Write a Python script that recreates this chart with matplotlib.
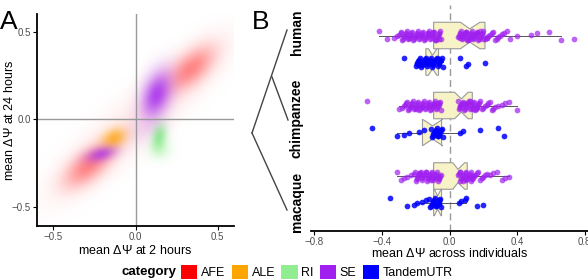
import numpy as np
import matplotlib
matplotlib.use("Agg")
import matplotlib.pyplot as plt
from matplotlib.patches import Patch
from matplotlib.lines import Line2D

plt.rcParams['font.family'] = ['Liberation Sans', 'DejaVu Sans']
plt.rcParams['mathtext.fontset'] = 'custom'
plt.rcParams['mathtext.rm'] = 'Liberation Sans'
plt.rcParams['mathtext.it'] = 'Liberation Sans:italic'

# ---- data ----
categories = ['AFE', 'ALE', 'RI', 'SE', 'TandemUTR']
cat_colors = ['#FF0000', '#FFA500', '#90EE90', '#A020F0', '#0000FF']

# panel A: 2d density blobs (centre, spread, correlation, weight)
blob_cat = ['AFE', 'AFE', 'AFE', 'ALE', 'RI', 'RI', 'SE', 'SE', 'SE']
blob_x = [-0.29, 0.34, 0.02, -0.13, 0.145, 0.15, 0.13, -0.21, 0.05]
blob_y = [-0.27, 0.29, 0.00, -0.11, -0.10, -0.17, 0.14, -0.20, -0.06]
blob_sx = [0.09, 0.09, 0.30, 0.045, 0.028, 0.04, 0.055, 0.055, 0.07]
blob_sy = [0.075, 0.08, 0.25, 0.035, 0.045, 0.035, 0.08, 0.028, 0.05]
blob_rho = [0.6, 0.6, 0.9, 0.3, 0.2, 0.0, 0.35, 0.4, 0.3]
blob_w = [1.0, 1.0, 0.12, 1.0, 1.0, 0.3, 1.0, 0.75, 0.06]
peak_alpha = {'AFE': 0.48, 'ALE': 0.75, 'RI': 0.95, 'SE': 0.82, 'TandemUTR': 0.5}

# panel B: per-species mean dPSI values
species = ['human', 'chimpanzee', 'macaque']
human_se = [-0.42, -0.37, -0.33, -0.31, -0.30, -0.29, -0.285, -0.28, -0.275, -0.27, -0.265,
            -0.26, -0.255, -0.25, -0.245, -0.24, -0.235, -0.23, -0.225, -0.22, -0.215, -0.21,
            -0.205, -0.20, -0.195, -0.19, -0.185, -0.18, -0.175, -0.17, -0.165, -0.16, -0.155,
            -0.15, -0.145, -0.14, -0.135, -0.13, -0.125, -0.12, -0.115, -0.11, -0.105, -0.10,
            -0.095, -0.09, -0.085, -0.08, -0.075, -0.07, -0.065, -0.06, -0.055, -0.05,
            -0.24, -0.20, -0.17, -0.13, -0.10, -0.08, -0.06,
            0.05, 0.055, 0.06, 0.065, 0.07, 0.075, 0.08, 0.085, 0.09, 0.095, 0.10, 0.105, 0.11,
            0.115, 0.12, 0.125, 0.13, 0.135, 0.14, 0.145, 0.15, 0.155, 0.16, 0.165, 0.17,
            0.175, 0.18, 0.185, 0.19, 0.195, 0.20, 0.21, 0.22, 0.23, 0.24, 0.25, 0.26, 0.27,
            0.28, 0.29, 0.30, 0.31, 0.32, 0.34, 0.36, 0.06, 0.07, 0.08, 0.09, 0.10, 0.11,
            0.12, 0.13, 0.14, 0.15, 0.16, 0.18, 0.20, 0.22, 0.40, 0.48, 0.52, 0.59, 0.66, 0.74]
human_tu = [-0.27, -0.20, -0.195, -0.19, -0.185, -0.18, -0.175, -0.17, -0.165, -0.16, -0.155,
            -0.15, -0.145, -0.14, -0.135, -0.13, -0.125, -0.12, -0.115, -0.11, -0.105, -0.10,
            -0.095, -0.09, -0.085, -0.08, -0.075, -0.07, -0.065, -0.06, -0.055, -0.05, -0.045,
            -0.04, -0.18, -0.15, -0.12, -0.09, -0.06,
            0.06, 0.10, 0.11, 0.21]
chimp_se = [-0.49, -0.30, -0.28, -0.27, -0.265, -0.26, -0.25, -0.245, -0.24, -0.235, -0.23,
            -0.225, -0.22, -0.215, -0.21, -0.205, -0.20, -0.195, -0.19, -0.185, -0.18, -0.175,
            -0.17, -0.165, -0.16, -0.155, -0.15, -0.145, -0.14, -0.135, -0.13, -0.125, -0.12,
            -0.115, -0.11, -0.105, -0.10, -0.095, -0.09, -0.085, -0.08, -0.075, -0.07, -0.065,
            -0.06, -0.055, -0.05, -0.20, -0.16, -0.12, -0.09, -0.07,
            0.05, 0.055, 0.06, 0.065, 0.07, 0.075, 0.08, 0.085, 0.09, 0.095, 0.10, 0.105, 0.11,
            0.115, 0.12, 0.125, 0.13, 0.135, 0.14, 0.145, 0.15, 0.155, 0.16, 0.165, 0.17,
            0.175, 0.18, 0.19, 0.20, 0.21, 0.22, 0.23, 0.24, 0.25, 0.26, 0.27, 0.06, 0.08,
            0.10, 0.12, 0.14, 0.16, 0.29, 0.31, 0.33, 0.35, 0.40]
chimp_tu = [-0.46, -0.31, -0.27, -0.24, -0.18, -0.15, -0.11, -0.105, -0.10, -0.095, -0.09,
            -0.085, -0.08, -0.075, -0.07, -0.065, -0.06, -0.055, -0.05, -0.045, -0.04,
            -0.07, -0.06, 0.065, 0.08, 0.18, 0.29, 0.32]
macaque_se = [-0.31, -0.29, -0.27, -0.25, -0.23, -0.21, -0.205, -0.20, -0.195, -0.19, -0.185,
              -0.18, -0.175, -0.17, -0.165, -0.16, -0.155, -0.15, -0.145, -0.14, -0.135, -0.13,
              -0.125, -0.12, -0.115, -0.11, -0.105, -0.10, -0.095, -0.09, -0.085, -0.08, -0.075,
              -0.07, -0.065, -0.06, -0.055, -0.05, -0.18, -0.14, -0.11, -0.08, -0.06,
              0.05, 0.055, 0.06, 0.065, 0.07, 0.075, 0.08, 0.085, 0.09, 0.095, 0.10, 0.105,
              0.11, 0.115, 0.12, 0.125, 0.13, 0.135, 0.14, 0.145, 0.15, 0.16, 0.17, 0.18, 0.19,
              0.20, 0.21, 0.22, 0.06, 0.08, 0.10, 0.12, 0.14, 0.24, 0.26, 0.28, 0.31, 0.33,
              0.35]
macaque_tu = [-0.35, -0.25, -0.21, -0.19, -0.16, -0.14, -0.12, -0.115, -0.11, -0.105, -0.10,
              -0.095, -0.09, -0.085, -0.08, -0.075, -0.07, -0.065, -0.06, -0.055, -0.05,
              -0.08, -0.06, 0.055, 0.07, 0.09, 0.10, 0.16, 0.20]

row_values = [human_se, human_tu, chimp_se, chimp_tu, macaque_se, macaque_tu]
row_cat = ['SE', 'TandemUTR', 'SE', 'TandemUTR', 'SE', 'TandemUTR']
# box stats: q1, median, q3, notch low, notch high, whisker low, whisker high
box_q1 = [-0.094, -0.14, -0.094, -0.16, -0.094, -0.094]
box_med = [0.12, -0.10, 0.07, -0.10, 0.05, -0.07]
box_q3 = [0.21, -0.065, 0.135, -0.047, 0.105, -0.047]
box_cilo = [0.065, -0.125, 0.03, -0.16, 0.02, -0.09]
box_cihi = [0.18, -0.075, 0.11, -0.04, 0.09, -0.05]
box_wlo = [-0.42, -0.20, -0.30, -0.31, -0.31, -0.20]
box_whi = [0.66, -0.04, 0.40, 0.08, 0.35, 0.10]

# layout of rows (pixel-like units, top to bottom)
row_pos = [35.5, 62, 105.5, 132.5, 176, 202.5]

fig = plt.figure(figsize=(5.88, 2.79), dpi=100)

# ---------- panel A ----------
axA = fig.add_axes([37 / 588, 53 / 279, 197 / 588, 212 / 279])
gx = np.linspace(-0.62, 0.62, 320)
GX, GY = np.meshgrid(gx, gx)
for cat, col in zip(categories, cat_colors):
    dens = np.zeros_like(GX)
    for i in range(len(blob_cat)):
        if blob_cat[i] != cat:
            continue
        dx = (GX - blob_x[i]) / blob_sx[i]
        dy = (GY - blob_y[i]) / blob_sy[i]
        r = blob_rho[i]
        dens += blob_w[i] * np.exp(-(dx ** 2 - 2 * r * dx * dy + dy ** 2) / (2 * (1 - r ** 2)))
    if dens.max() == 0:
        continue
    rgba = np.zeros(GX.shape + (4,))
    rgba[..., :3] = matplotlib.colors.to_rgb(col)
    rgba[..., 3] = np.clip(dens / dens.max(), 0, 1) ** 0.75 * peak_alpha[cat]
    axA.imshow(rgba, extent=(-0.62, 0.62, -0.62, 0.62), origin='lower',
               interpolation='bilinear', zorder=1)
axA.axhline(0, color='#999999', lw=1, zorder=2)
axA.axvline(0, color='#999999', lw=1, zorder=2)
axA.set_xlim(-0.6, 0.6)
axA.set_ylim(-0.61, 0.6)
axA.set_aspect('auto')
axA.set_xticks([-0.5, 0, 0.5])
axA.set_xticklabels(['\u22120.5', '0.0', '0.5'])
axA.set_yticks([-0.5, 0, 0.5])
axA.set_yticklabels(['\u22120.5', '0.0', '0.5'])
for s in ['top', 'right']:
    axA.spines[s].set_visible(False)
for s in ['left', 'bottom']:
    axA.spines[s].set_linewidth(1.3)
axA.tick_params(labelsize=7, labelcolor='#4d4d4d', length=3, pad=1.5)
axA.set_xlabel('mean $\\Delta\\mathit{\\Psi}$ at 2 hours', fontsize=9, labelpad=1)
fig.text(10 / 588, 1 - 120 / 279, 'mean $\\Delta\\mathit{\\Psi}$ at 24 hours', fontsize=9,
         rotation=90, ha='center', va='center')
fig.text(0 / 588, 1 - 22 / 279, 'A', fontsize=19, va='center', ha='left')

# ---------- panel B ----------
axB = fig.add_axes([311 / 588, 48 / 279, 277 / 588, 226 / 279])
axB.set_xlim(-0.82, 0.82)
axB.set_ylim(231, 5)
axB.axvline(0, color='#999999', lw=1, ls=(0, (5, 3)), zorder=1)

stats = []
for i in range(len(row_values)):
    stats.append(dict(q1=box_q1[i], med=box_med[i], q3=box_q3[i],
                      cilo=box_cilo[i], cihi=box_cihi[i],
                      whislo=box_wlo[i], whishi=box_whi[i], fliers=[]))
axB.bxp(stats, positions=row_pos, widths=26.5, orientation='horizontal', shownotches=True,
        patch_artist=True, showcaps=False,
        boxprops=dict(facecolor='#F7F3C6', edgecolor='#9a9a9a', lw=0.8),
        whiskerprops=dict(color='#555555', lw=0.7),
        medianprops=dict(color='#9a9a9a', lw=0.0),
        manage_ticks=False, zorder=2)

for vals, cat, y0 in zip(row_values, row_cat, row_pos):
    n = len(vals)
    jit = (((np.arange(n) * 37) % 13) - 6) / 6.0 * 4.5
    col = cat_colors[categories.index(cat)]
    a = 0.7 if cat == 'SE' else 0.85
    axB.scatter(vals, y0 + jit, s=17, color=col, alpha=a, lw=0, zorder=3)

axB.set_xticks([-0.8, -0.4, 0, 0.4, 0.8])
axB.set_xticklabels(['\u22120.8', '\u22120.4', '0.0', '0.4', '0.8'])
axB.set_yticks([])
for s in ['top', 'right', 'left']:
    axB.spines[s].set_visible(False)
axB.spines['bottom'].set_linewidth(1.3)
axB.tick_params(labelsize=7, labelcolor='#4d4d4d', length=3, pad=1.5)
axB.set_xlabel('mean $\\Delta\\mathit{\\Psi}$ across individuals', fontsize=9, labelpad=0)
fig.text(252 / 588, 1 - 22 / 279, 'B', fontsize=19, va='center', ha='left')

# cladogram + species labels
tree = [((252, 133), (287, 30)), ((272, 77), (288, 120)), ((252, 133), (287, 210))]
for (x0, y0), (x1, y1) in tree:
    fig.add_artist(Line2D([x0 / 588, x1 / 588], [1 - y0 / 279, 1 - y1 / 279],
                          transform=fig.transFigure, color='#444444', lw=1))
for name, yc in zip(species, [32, 118, 202]):
    fig.text(297 / 588, 1 - yc / 279, name, rotation=90, fontsize=10,
             fontweight='bold', ha='center', va='center')

# legend
handles = [Patch(facecolor=c, edgecolor='none') for c in cat_colors]
fig.legend(handles, categories, loc='center left', bbox_to_anchor=(181 / 588, 1 - 272 / 279),
           ncol=5, frameon=False, fontsize=9, handlelength=1.3, handleheight=1.3,
           handletextpad=0.3, columnspacing=0.5, borderaxespad=0, borderpad=0)
fig.text(122 / 588, 1 - 272 / 279, 'category', fontsize=9.5, fontweight='bold',
         ha='left', va='center')

fig.savefig('out.png', dpi=100)
